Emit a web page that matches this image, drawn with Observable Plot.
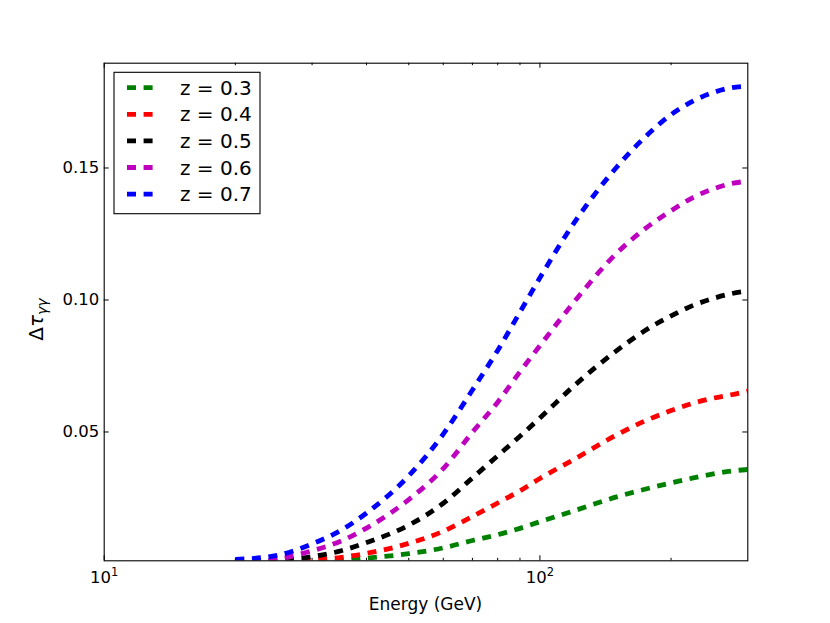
<!DOCTYPE html>
<html>
<head>
<meta charset="utf-8">
<script src="https://cdn.jsdelivr.net/npm/d3@7"></script>
<script src="https://cdn.jsdelivr.net/npm/@observablehq/plot@0.6"></script>
<style>
  html, body { margin: 0; padding: 0; background: #fff; }
  #chart svg { display: block; }
</style>
</head>
<body>
<div id="chart"></div>
<script>
// ---- data ----
const energies = [20, 25, 30, 35, 40, 50, 60, 70, 80, 90, 100, 120, 150, 175, 200, 225, 250, 275, 300];
const tau_z03 = [0.0000, 0.0001, 0.0004, 0.0012, 0.0022, 0.0039, 0.0061, 0.0089, 0.0111, 0.0135, 0.0160, 0.0202, 0.0254, 0.0284, 0.0307, 0.0326, 0.0341, 0.0352, 0.0358];
const tau_z04 = [0.0001, 0.0005, 0.0014, 0.0025, 0.0040, 0.0078, 0.0124, 0.0180, 0.0231, 0.0277, 0.0324, 0.0397, 0.0489, 0.0543, 0.0581, 0.0609, 0.0628, 0.0641, 0.0655];
const tau_z05 = [0.0002, 0.0012, 0.0028, 0.0050, 0.0081, 0.0147, 0.0230, 0.0326, 0.0410, 0.0484, 0.0553, 0.0676, 0.0808, 0.0886, 0.0940, 0.0980, 0.1006, 0.1024, 0.1034];
const tau_z06 = [0.0004, 0.0018, 0.0050, 0.0087, 0.0136, 0.0244, 0.0361, 0.0499, 0.0613, 0.0728, 0.0827, 0.0994, 0.1177, 0.1272, 0.1338, 0.1389, 0.1421, 0.1441, 0.1450];
const tau_z07 = [0.0017, 0.0033, 0.0076, 0.0128, 0.0193, 0.0334, 0.0492, 0.0659, 0.0809, 0.0954, 0.1084, 0.1294, 0.1503, 0.1620, 0.1702, 0.1754, 0.1786, 0.1804, 0.1810];

const seriesLabels = ["z = 0.3", "z = 0.4", "z = 0.5", "z = 0.6", "z = 0.7"];
const seriesColors = ["#008000", "#ff0000", "#000000", "#bf00bf", "#0000ff"];
const seriesValues = [tau_z03, tau_z04, tau_z05, tau_z06, tau_z07];

const yTicks = [0.05, 0.10, 0.15];
const xMajorTicks = [10, 100];
const xMinorTicks = [20, 30, 40, 50, 60, 70, 80, 90, 200];
const xTickExponents = ["1", "2"];

// ---- layout ----
const W = 830, H = 623;
const mL = 103.7, mR = 82.7, mT = 62.7, mB = 62.7;
const pw = W - mL - mR, ph = H - mT - mB;
const font = "DejaVu Sans, sans-serif";
const dash = "9,7.6";
const lw = 4.8;

const lineMarks = seriesValues.map((vals, i) => {
  const rows = energies.map((e, j) => ({E: e, v: vals[j]}));
  return Plot.line(rows, {
    x: "E", y: "v", stroke: seriesColors[i], strokeWidth: lw,
    strokeDasharray: dash, strokeLinecap: "butt", curve: "monotone-x", clip: true
  });
});

const chart = Plot.plot({
  width: W, height: H,
  marginLeft: mL, marginRight: mR, marginTop: mT, marginBottom: mB,
  style: {fontFamily: font, fontSize: "16.5px", background: "white", color: "black"},
  x: {type: "log", domain: [10, 300], axis: null},
  y: {domain: [0.0012, 0.1897], axis: null},
  marks: [
    ...lineMarks,
    Plot.frame({stroke: "black", strokeWidth: 1.1}),
    // inward ticks, left & right
    Plot.tickY(yTicks, {y: d => d, stroke: "black", strokeWidth: 1, insetRight: pw - 5}),
    Plot.tickY(yTicks, {y: d => d, stroke: "black", strokeWidth: 1, insetLeft: pw - 5}),
    // inward ticks, bottom & top (major and minor)
    Plot.tickX(xMajorTicks, {x: d => d, stroke: "black", strokeWidth: 1, insetTop: ph - 5}),
    Plot.tickX(xMajorTicks, {x: d => d, stroke: "black", strokeWidth: 1, insetBottom: ph - 5}),
    Plot.tickX(xMinorTicks, {x: d => d, stroke: "black", strokeWidth: 1, insetTop: ph - 2.5}),
    Plot.tickX(xMinorTicks, {x: d => d, stroke: "black", strokeWidth: 1, insetBottom: ph - 2.5}),
    Plot.axisY({ticks: yTicks, anchor: "left", tickSize: 0, tickPadding: 5,
      tickFormat: d => d.toFixed(2), fontSize: 16.5, label: null}),
    Plot.axisX({ticks: xMajorTicks, anchor: "bottom", tickSize: 0, tickPadding: 10,
      tickFormat: d => "10", fontSize: 16.5, label: null})
  ]
});

document.getElementById("chart").appendChild(chart);
const svg = d3.select(chart);

// superscript exponents on x tick labels
svg.selectAll('g[aria-label="x-axis tick label"] text').each(function(d, i) {
  const t = d3.select(this);
  t.text("10");
  t.append("tspan").attr("dy", "-0.55em").attr("font-size", "11.5px").text(xTickExponents[i]);
});

// x axis label
svg.append("text")
  .attr("x", mL + pw / 2).attr("y", 604).attr("dy", "0.35em")
  .attr("text-anchor", "middle").attr("font-family", font).attr("font-size", "17px")
  .attr("fill", "black")
  .text("Energy (GeV)");

// y axis label: Δτ_γγ
const yl = svg.append("text")
  .attr("transform", `translate(43,${mT + ph / 2 + 8}) rotate(-90)`)
  .attr("text-anchor", "middle").attr("font-family", font).attr("font-size", "20px")
  .attr("fill", "black");
yl.append("tspan").text("Δ");
yl.append("tspan").attr("font-style", "italic").text("τ");
yl.append("tspan").attr("font-style", "italic").attr("font-size", "14px").attr("dy", "0.25em").text("γγ");

// legend
const lg = svg.append("g").attr("font-family", font).attr("font-size", "20px");
lg.append("rect").attr("x", 114).attr("y", 72.3).attr("width", 146).attr("height", 141.4)
  .attr("fill", "white").attr("stroke", "black").attr("stroke-width", 1.1);
seriesLabels.forEach((lab, i) => {
  const cy = 87.7 + 26.6 * i;
  lg.append("line").attr("x1", 127).attr("x2", 153).attr("y1", cy).attr("y2", cy)
    .attr("stroke", seriesColors[i]).attr("stroke-width", lw).attr("stroke-dasharray", dash);
  lg.append("text").attr("x", 180).attr("y", cy).attr("dy", "0.35em")
    .attr("text-anchor", "start").attr("fill", "black").text(lab);
});
</script>
</body>
</html>
